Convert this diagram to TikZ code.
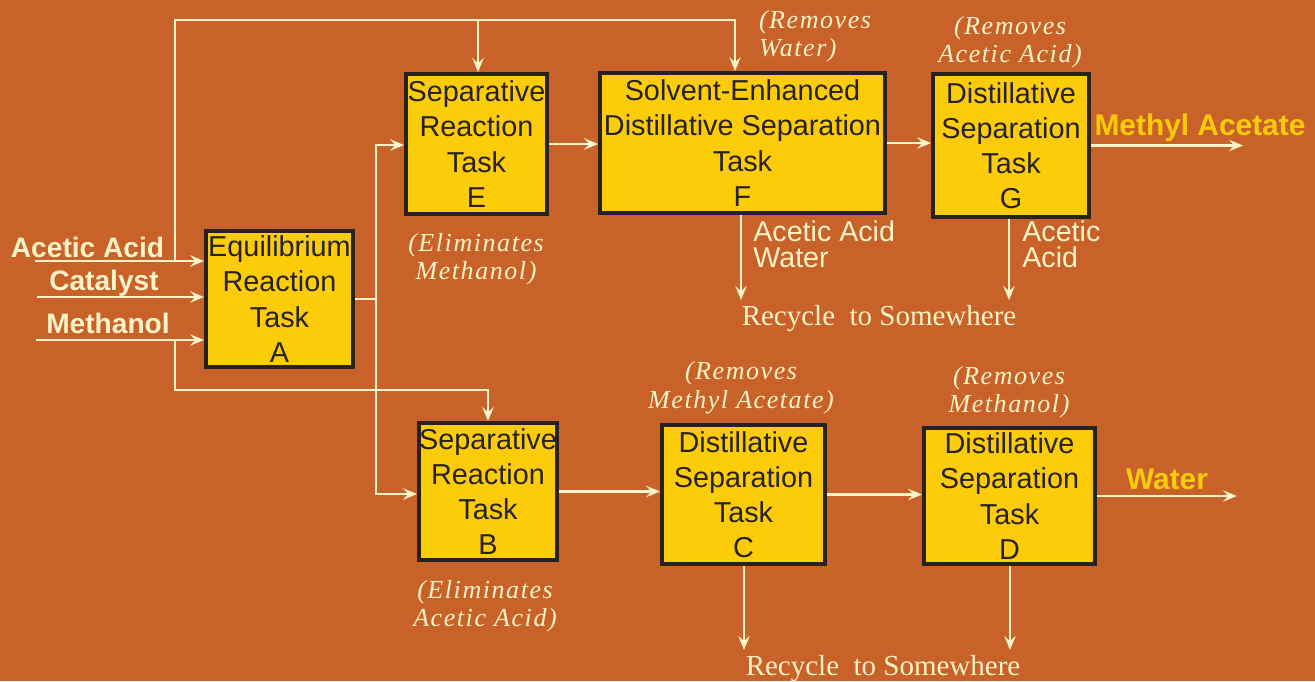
\documentclass[tikz,border=0pt]{standalone}
\usepackage{fontspec}
\setmainfont{Liberation Sans}
\newfontfamily\notefont{Liberation Serif}[LetterSpace=6]
\newfontfamily\plainserif{Liberation Serif}
\usetikzlibrary{arrows.meta}
\definecolor{bgorange}{RGB}{200,98,40}
\definecolor{boxgold}{RGB}{252,204,8}
\definecolor{flowcream}{RGB}{255,244,200}
\definecolor{inkdark}{RGB}{40,34,30}

\begin{document}
\begin{tikzpicture}[x=0.02cm,y=-0.02cm,
  task/.style={draw=inkdark, line width=2.2pt, fill=boxgold, text=inkdark,
    inner sep=0pt, align=center, font=\fontsize{16.4}{20}\selectfont},
  flow/.style={draw=flowcream, line width=1.4pt, line join=miter},
  feed/.style={flow, -{Stealth[length=8pt,width=6.5pt,inset=3pt]}},
  inlabel/.style={text=flowcream, inner sep=0pt, anchor=base,
    font=\bfseries\fontsize{16}{19}\selectfont},
  product/.style={text=boxgold, inner sep=0pt, anchor=base,
    font=\bfseries\fontsize{17}{20}\selectfont},
  note/.style={text=flowcream, align=center, inner sep=0pt,
    font=\notefont\itshape\fontsize{14.8}{16.2}\selectfont},
  stream/.style={text=flowcream, align=left, inner sep=0pt, anchor=north west,
    font=\fontsize{16.3}{14.8}\selectfont},
  recycle/.style={text=flowcream, inner sep=0pt, anchor=base,
    font=\plainserif\fontsize{16.5}{19}\selectfont},
]
% background
\fill[bgorange] (0,0) rectangle (1315,681);
\useasboundingbox (0,0) rectangle (1315,681);

% task boxes
\node[task, minimum width=2.94cm, minimum height=2.72cm] (A) at (279.5,299) {Equilibrium\\Reaction\\Task\\A};
\node[task, minimum width=2.82cm, minimum height=2.80cm] (E) at (476.5,144) {Separative\\Reaction\\Task\\E};
\node[task, minimum width=5.70cm, minimum height=2.80cm] (F) at (742.5,143) {Solvent-Enhanced\\Distillative Separation\\Task\\F};
\node[task, minimum width=3.12cm, minimum height=2.86cm] (G) at (1011,145.5) {Distillative\\Separation\\Task\\G};
\node[task, minimum width=2.76cm, minimum height=2.74cm] (B) at (488,491.5) {Separative\\Reaction\\Task\\B};
\node[task, minimum width=3.26cm, minimum height=2.78cm] (C) at (743.5,494.5) {Distillative\\Separation\\Task\\C};
\node[task, minimum width=3.42cm, minimum height=2.72cm] (D) at (1009.5,496) {Distillative\\Separation\\Task\\D};

% feed streams into A
\coordinate (inAc) at (35,261);
\coordinate (inCat) at (37,297);
\coordinate (inMe) at (36,340);
\draw[feed] (inAc) -- (inAc -| A.west);
\draw[feed] (inCat) -- (inCat -| A.west);
\draw[feed] (inMe) -- (inMe -| A.west);
\node[inlabel] (lAc) at (87.5,257) {Acetic Acid};
\node[inlabel] (lCat) at (104,290) {Catalyst};
\node[inlabel] (lMe) at (108,333) {Methanol};

% upper bypass to E and F
\coordinate (tl) at (175,20);
\coordinate (tm) at (478,20);
\coordinate (tr) at (735,20);
\draw[feed] (tl |- inAc) -- (tl) -- (tr) -- (tr |- F.north);
\draw[feed] (tm) -- (tm |- E.north);

% lower bypass to B
\coordinate (bl) at (175,390);
\coordinate (br) at (488,390);
\draw[feed] (bl |- inMe) -- (bl) -- (br) -- (br |- B.north);

% product of A split to E and B
\coordinate (split) at (376,298);
\coordinate (splitTop) at (376,145);
\coordinate (splitBot) at (376,494);
\draw[flow] (A.east) -- (A.east -| split);
\draw[feed] (split) -- (splitTop) -- (splitTop -| E.west);
\draw[feed] (split) -- (splitBot) -- (splitBot -| B.west);

% upper train
\draw[feed] (E.east) -- (E.east -| F.west);
\draw[feed] (F.east) -- (F.east -| G.west);
\coordinate (outMA) at (1243,144);
\draw[feed] (G.east) -- (G.east -| outMA);
\node[product] (pMA) at (1200,135) {Methyl Acetate};

% lower train
\draw[feed] (B.east) -- (B.east -| C.west);
\draw[feed] (C.east) -- (C.east -| D.west);
\coordinate (outW) at (1237,496);
\draw[feed] (D.east) -- (D.east -| outW);
\node[product] (pW) at (1167,489) {Water};

% recycle streams
\coordinate (rF) at (741,300);
\coordinate (rG) at (1009,300);
\coordinate (rC) at (744,650);
\coordinate (rD) at (1010,650);
\draw[feed] (rF |- F.south) -- (rF);
\draw[feed] (rG |- G.south) -- (rG);
\draw[feed] (rC |- C.south) -- (rC);
\draw[feed] (rD |- D.south) -- (rD);
\node[stream] (sF) at (753,220) {Acetic Acid\\Water};
\node[stream] (sG) at (1022,220) {Acetic\\Acid};
\node[recycle] (recTop) at (879,325) {Recycle\ \ to Somewhere};
\node[recycle] (recBot) at (883,675) {Recycle\ \ to Somewhere};

% notes on each task
\node[note, align=left] (nF) at (815,36) {(Removes\\Water)};
\node[note] (nG) at (1010,42) {(Removes\\Acetic Acid)};
\node[note] (nE) at (476,259) {(Eliminates\\Methanol)};
\node[note] (nC) at (741,388) {(Removes\\Methyl Acetate)};
\node[note] (nD) at (1009,392) {(Removes\\Methanol)};
\node[note] (nB) at (485,606) {(Eliminates\\Acetic Acid)};
\end{tikzpicture}
\end{document}
